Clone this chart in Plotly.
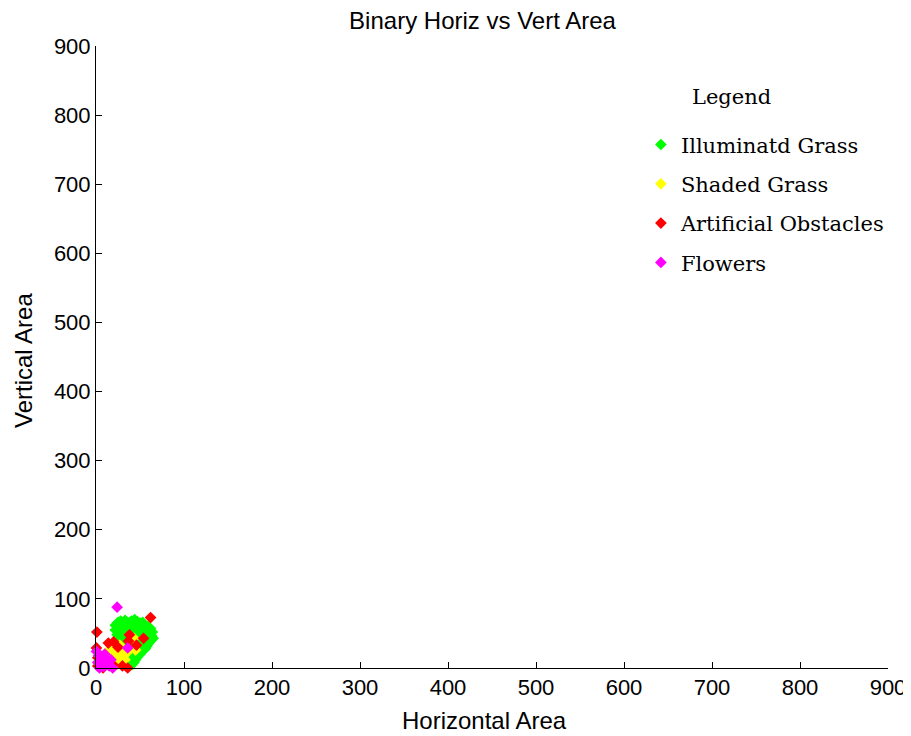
import plotly.graph_objects as go

# ---- data ----
green_x = [22, 25, 28, 30, 33, 36, 40, 44, 47, 50, 53, 56, 59, 62, 64, 63, 65, 62, 60, 58,
           56, 52, 50, 47, 45, 43, 41, 38, 36, 33, 30, 27, 24, 22, 26, 29, 32, 35, 38, 41,
           44, 47, 50, 53, 56, 59, 57, 54, 51, 48, 45, 42, 39, 36, 33, 40, 43, 46, 50, 53,
           48, 44, 40, 37, 31, 28, 55, 60, 39, 42]
green_y = [62, 66, 68, 64, 69, 66, 68, 70, 67, 65, 66, 62, 60, 57, 52, 47, 43, 40, 36, 32,
           28, 24, 20, 16, 12, 8, 5, 14, 20, 26, 33, 40, 48, 55, 58, 55, 50, 56, 60, 62,
           58, 55, 58, 55, 52, 48, 42, 38, 33, 30, 35, 40, 45, 42, 38, 30, 24, 20, 45, 48,
           50, 48, 52, 50, 44, 48, 60, 53, 22, 18]

yellow_x = [8, 10, 12, 14, 16, 18, 20, 22, 24, 26, 28, 30, 32, 33, 20, 15, 24, 12, 43, 45,
            18, 27, 22, 35, 30]
yellow_y = [12, 18, 22, 25, 20, 28, 15, 24, 30, 20, 12, 26, 18, 12, 8, 5, 5, 8, 43, 26,
            33, 33, 18, 22, 5]

red_x = [1, 14, 0.5, 2, 19, 62, 54, 38, 37, 36, 10, 4, 20, 2, 30, 25, 8, 46]
red_y = [52, 36, 29, 3, 5, 73, 43, 48, 39, 0, 4, 10, 38, 15, 3, 30, 0, 33]

mag_x = [24, 0.5, 3, 5, 7, 9, 11, 13, 15, 17, 4, 36, 2, 19, 10]
mag_y = [88, 24, 18, 10, 5, 2, 14, 8, 3, 12, 0, 29, 8, 0, 20]

names = ["Illuminatd Grass", "Shaded Grass", "Artificial Obstacles", "Flowers"]
colors = ["#00ff00", "#ffff00", "#ff0000", "#ff00ff"]
xs = [green_x, yellow_x, red_x, mag_x]
ys = [green_y, yellow_y, red_y, mag_y]

tick_vals = [0, 100, 200, 300, 400, 500, 600, 700, 800, 900]

W, H = 903, 728
L, T, PW, PH = 88, 38, 792, 622
SANS = "Liberation Sans, Arial"
SERIF = "DejaVu Serif"

fig = go.Figure()
for i, (n, c, x, y) in enumerate(zip(names, colors, xs, ys)):
    fig.add_trace(go.Scatter(
        x=x, y=y, mode="markers", name=n, legendgroup=str(i),
        marker=dict(symbol="diamond", size=9, color=c, line=dict(width=0)),
        cliponaxis=False,
    ))

axis_common = dict(
    range=[0, 900], tickvals=tick_vals, ticktext=[str(v) for v in tick_vals],
    showgrid=False, zeroline=False, showline=True, linecolor="black", linewidth=1,
    ticks="inside", ticklen=6, tickcolor="black", mirror=False, automargin=False,
    ticklabeloverflow="allow",
    tickfont=dict(family=SANS, size=22, color="black"),
)

fig.update_layout(
    width=W, height=H,
    margin=dict(l=L, r=W - L - PW, t=T, b=H - T - PH),
    paper_bgcolor="white", plot_bgcolor="white",
    title=dict(text="Binary Horiz vs Vert Area", x=474.5 / W, xref="container",
               xanchor="center", y=1 - 13 / H, yanchor="middle",
               font=dict(family=SANS, size=24, color="black")),
    xaxis=dict(axis_common),
    yaxis=dict(axis_common),
    legend=dict(
        x=0.688, y=0.874, xanchor="left", yanchor="top",
        bgcolor="rgba(0,0,0,0)", borderwidth=0,
        traceorder="grouped", tracegroupgap=9,
        font=dict(family=SERIF, size=21, color="black"),
    ),
    showlegend=True,
    annotations=[
        dict(text="Legend", xref="paper", yref="paper", x=(731 - 96) / PW,
             y=(668 - 97) / PH, xanchor="center", yanchor="middle", showarrow=False,
             font=dict(family=SERIF, size=21, color="black")),
        dict(text="Horizontal Area", xref="paper", yref="paper", x=0.49, y=-52 / PH,
             xanchor="center", yanchor="middle", showarrow=False,
             font=dict(family=SANS, size=24, color="black")),
        dict(text="Vertical Area", xref="paper", yref="paper", x=-72 / PW, y=0.5 - 4 / PH,
             xanchor="center", yanchor="middle", showarrow=False, textangle=-90,
             font=dict(family=SANS, size=24, color="black")),
    ],
)

fig.write_html("out.html")
